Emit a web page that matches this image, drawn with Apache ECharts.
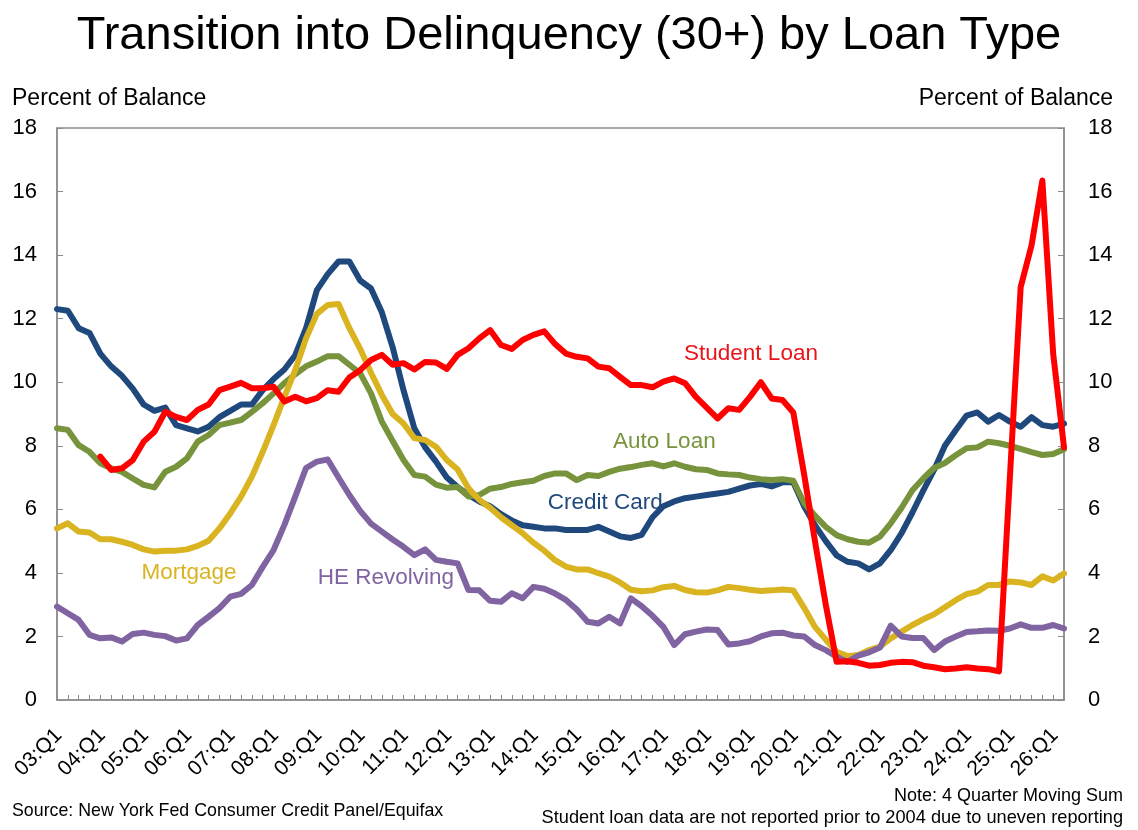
<!DOCTYPE html>
<html>
<head>
<meta charset="utf-8">
<script src="https://cdn.jsdelivr.net/npm/echarts@6/dist/echarts.min.js"></script>
<style>
  html, body { margin: 0; padding: 0; background: #ffffff; }
  #chart { width: 1138px; height: 830px; }
</style>
</head>
<body>
<div id="chart"></div>
<script>
// ---------- Data ----------
const quarters = [
  '03:Q1','03:Q2','03:Q3','03:Q4','04:Q1','04:Q2','04:Q3','04:Q4',
  '05:Q1','05:Q2','05:Q3','05:Q4','06:Q1','06:Q2','06:Q3','06:Q4',
  '07:Q1','07:Q2','07:Q3','07:Q4','08:Q1','08:Q2','08:Q3','08:Q4',
  '09:Q1','09:Q2','09:Q3','09:Q4','10:Q1','10:Q2','10:Q3','10:Q4',
  '11:Q1','11:Q2','11:Q3','11:Q4','12:Q1','12:Q2','12:Q3','12:Q4',
  '13:Q1','13:Q2','13:Q3','13:Q4','14:Q1','14:Q2','14:Q3','14:Q4',
  '15:Q1','15:Q2','15:Q3','15:Q4','16:Q1','16:Q2','16:Q3','16:Q4',
  '17:Q1','17:Q2','17:Q3','17:Q4','18:Q1','18:Q2','18:Q3','18:Q4',
  '19:Q1','19:Q2','19:Q3','19:Q4','20:Q1','20:Q2','20:Q3','20:Q4',
  '21:Q1','21:Q2','21:Q3','21:Q4','22:Q1','22:Q2','22:Q3','22:Q4',
  '23:Q1','23:Q2','23:Q3','23:Q4','24:Q1','24:Q2','24:Q3','24:Q4',
  '25:Q1','25:Q2','25:Q3','25:Q4','26:Q1','26:Q2'
];

const creditCard = [
  12.3, 12.25, 11.7, 11.55, 10.9, 10.5, 10.2, 9.8, 9.3, 9.1,
  9.2, 8.65, 8.55, 8.45, 8.6, 8.9, 9.1, 9.3, 9.3, 9.75,
  10.1, 10.4, 10.85, 11.7, 12.9, 13.4, 13.8, 13.8, 13.2, 12.95,
  12.2, 11.1, 9.75, 8.55, 7.95, 7.5, 7.0, 6.7, 6.45, 6.25,
  6.1, 5.85, 5.65, 5.5, 5.45, 5.4, 5.4, 5.35, 5.35, 5.35,
  5.45, 5.3, 5.15, 5.1, 5.2, 5.75, 6.1, 6.25, 6.35, 6.4,
  6.45, 6.5, 6.55, 6.65, 6.75, 6.8, 6.72, 6.85, 6.85, 6.1,
  5.5, 5.0, 4.55, 4.35, 4.3, 4.11, 4.3, 4.72, 5.25, 5.9,
  6.59, 7.24, 8.0, 8.49, 8.95, 9.05, 8.76, 8.97, 8.76, 8.6,
  8.9, 8.65, 8.6, 8.7
];

const autoLoan = [
  8.55, 8.5, 8.02, 7.81, 7.45, 7.29, 7.18, 6.97, 6.77, 6.69,
  7.18, 7.34, 7.6, 8.13, 8.34, 8.65, 8.73, 8.81, 9.07, 9.34,
  9.65, 9.97, 10.25, 10.5, 10.65, 10.82, 10.82, 10.55, 10.28, 9.65,
  8.76, 8.15, 7.55, 7.08, 7.03, 6.78, 6.68, 6.7, 6.4, 6.45,
  6.65, 6.7, 6.8, 6.85, 6.9, 7.05, 7.13, 7.13, 6.92, 7.08,
  7.05, 7.18, 7.28, 7.33, 7.4, 7.45, 7.35, 7.45, 7.34, 7.26,
  7.24, 7.13, 7.1, 7.08, 7.0, 6.95, 6.92, 6.95, 6.9, 6.2,
  5.8, 5.45, 5.19, 5.06, 4.98, 4.95, 5.14, 5.56, 6.05, 6.6,
  6.97, 7.3, 7.46, 7.7, 7.92, 7.95, 8.13, 8.08, 8.0, 7.9,
  7.8, 7.71, 7.74, 7.89
];

const mortgage = [
  5.4, 5.56, 5.3, 5.27, 5.06, 5.06, 4.98, 4.88, 4.74, 4.67,
  4.7, 4.7, 4.74, 4.85, 5.01, 5.4, 5.87, 6.4, 7.03, 7.81,
  8.65, 9.54, 10.38, 11.38, 12.15, 12.43, 12.46, 11.7, 11.05, 10.3,
  9.6, 9.0, 8.7, 8.24, 8.18, 7.97, 7.55, 7.25, 6.66, 6.3,
  6.05, 5.75, 5.5, 5.25, 4.95, 4.7, 4.4, 4.2, 4.11, 4.11,
  3.99, 3.88, 3.7, 3.47, 3.42, 3.45, 3.55, 3.59, 3.46, 3.39,
  3.38, 3.45, 3.56, 3.52, 3.47, 3.43, 3.45, 3.48, 3.45, 2.9,
  2.3, 1.9, 1.52, 1.38, 1.42, 1.57, 1.68, 1.94, 2.15, 2.36,
  2.54, 2.7, 2.92, 3.14, 3.33, 3.41, 3.62, 3.62, 3.73, 3.7,
  3.62, 3.89, 3.76, 3.98
];

const heRevolving = [
  2.94, 2.73, 2.52, 2.05, 1.94, 1.97, 1.84, 2.08, 2.12, 2.05,
  2.01, 1.87, 1.94, 2.36, 2.62, 2.89, 3.25, 3.34, 3.62, 4.19,
  4.72, 5.51, 6.4, 7.3, 7.5, 7.57, 7.0, 6.45, 5.95, 5.55,
  5.3, 5.05, 4.82, 4.56, 4.74, 4.41, 4.35, 4.3, 3.46, 3.45,
  3.12, 3.09, 3.36, 3.2, 3.56, 3.5, 3.35, 3.15, 2.85, 2.46,
  2.41, 2.62, 2.41, 3.2, 2.95, 2.65, 2.3, 1.73, 2.07, 2.15,
  2.22, 2.2, 1.75, 1.78, 1.85, 2.0, 2.1, 2.12, 2.03, 2.0,
  1.73, 1.57, 1.36, 1.2, 1.4, 1.5, 1.65, 2.34, 2.0, 1.95,
  1.95, 1.57, 1.84, 2.0, 2.14, 2.16, 2.19, 2.18, 2.25, 2.38,
  2.27, 2.27, 2.36, 2.25
];

const studentLoan = [
  null, null, null, null, 7.66, 7.24, 7.29, 7.55, 8.13, 8.44,
  9.07, 8.91, 8.81, 9.13, 9.3, 9.75, 9.86, 9.98, 9.81, 9.81,
  9.86, 9.39, 9.54, 9.4, 9.5, 9.75, 9.7, 10.15, 10.38, 10.7,
  10.86, 10.55, 10.6, 10.4, 10.64, 10.62, 10.42, 10.86, 11.07, 11.38,
  11.64, 11.17, 11.05, 11.33, 11.49, 11.6, 11.2, 10.9, 10.8, 10.75,
  10.49, 10.44, 10.17, 9.91, 9.91, 9.84, 10.02, 10.12, 9.97, 9.54,
  9.2, 8.86, 9.18, 9.13, 9.54, 10.0, 9.49, 9.44, 9.05, 7.1,
  5.0, 3.0, 1.2, 1.22, 1.17, 1.08, 1.1, 1.17, 1.2, 1.19,
  1.08, 1.03, 0.97, 0.99, 1.03, 0.99, 0.97, 0.9, 7.0, 13.0,
  14.3, 16.35, 10.9, 7.95
];

const yTicks = { min: 0, max: 18, interval: 2 };

// ---------- Styling ----------
const FONT = "'Liberation Sans', Arial, Helvetica, sans-serif";
const AXIS_GRAY = '#8c8c8c';
const COLORS = {
  credit: '#1F497D',
  auto: '#77933C',
  mortgage: '#D9B320',
  he: '#8064A2',
  student: '#FF0000'
};

function inlineLabel(text, cat, val, color, dx) {
  return {
    symbol: 'circle',
    symbolSize: 0,
    silent: true,
    label: {
      show: true,
      position: 'inside',
      formatter: text,
      color: color,
      fontFamily: FONT,
      fontSize: 22.5,
      offset: [dx || 0, 0]
    },
    data: [{ coord: [cat, val] }]
  };
}

function lineSeries(name, data, color, lbl) {
  return {
    name: name,
    type: 'line',
    data: data,
    yAxisIndex: 0,
    symbol: 'none',
    smooth: false,
    connectNulls: false,
    lineStyle: { color: color, width: 6, join: 'round', cap: 'round' },
    itemStyle: { color: color },
    emphasis: { disabled: true },
    markPoint: lbl
  };
}

const chart = echarts.init(document.getElementById('chart'), null, { renderer: 'canvas' });

const option = {
  animation: false,
  backgroundColor: '#ffffff',
  textStyle: { fontFamily: FONT },
  title: {
    text: 'Transition into Delinquency (30+) by Loan Type',
    left: 'center',
    top: 8,
    textStyle: { fontFamily: FONT, fontSize: 47, fontWeight: 'normal', color: '#000000' }
  },
  grid: {
    left: 57,
    right: 74,
    top: 128,
    bottom: 130,
    show: true,
    borderColor: AXIS_GRAY,
    borderWidth: 1.5,
    backgroundColor: 'transparent'
  },
  xAxis: {
    type: 'category',
    data: quarters,
    boundaryGap: false,
    axisLine: { show: true, lineStyle: { color: AXIS_GRAY, width: 1.5 } },
    axisTick: { show: true, inside: true, length: 5, interval: 0, lineStyle: { color: AXIS_GRAY, width: 1 } },
    axisLabel: {
      interval: function (idx, val) { return val.slice(3) === 'Q1'; },
      rotate: 45,
      margin: 19,
      verticalAlign: 'top',
      padding: [0, 8, 0, 0],
      color: '#000000',
      fontFamily: FONT,
      fontSize: 21
    },
    splitLine: { show: false }
  },
  yAxis: [
    {
      type: 'value',
      position: 'left',
      min: yTicks.min, max: yTicks.max, interval: yTicks.interval,
      axisLine: { show: true, lineStyle: { color: AXIS_GRAY, width: 1.5 } },
      axisTick: { show: true, inside: true, length: 6, lineStyle: { color: AXIS_GRAY } },
      axisLabel: { color: '#000000', fontFamily: FONT, fontSize: 22, margin: 20 },
      splitLine: { show: false }
    },
    {
      type: 'value',
      position: 'right',
      min: yTicks.min, max: yTicks.max, interval: yTicks.interval,
      axisLine: { show: true, lineStyle: { color: AXIS_GRAY, width: 1.5 } },
      axisTick: { show: true, inside: true, length: 6, lineStyle: { color: AXIS_GRAY } },
      axisLabel: { color: '#000000', fontFamily: FONT, fontSize: 22, margin: 24 },
      splitLine: { show: false }
    }
  ],
  series: [
    lineSeries('Credit Card', creditCard, COLORS.credit,
      inlineLabel('Credit Card', quarters[51], 6.2, COLORS.credit, -4)),
    lineSeries('Auto Loan', autoLoan, COLORS.auto,
      inlineLabel('Auto Loan', quarters[56], 8.12, COLORS.auto, 1)),
    lineSeries('Mortgage', mortgage, COLORS.mortgage,
      inlineLabel('Mortgage', quarters[12], 4.0, COLORS.mortgage, 2)),
    lineSeries('HE Revolving', heRevolving, COLORS.he,
      inlineLabel('HE Revolving', quarters[30], 3.84, COLORS.he, 4)),
    lineSeries('Student Loan', studentLoan, COLORS.student,
      inlineLabel('Student Loan', quarters[64], 10.89, '#E8141A', 1))
  ],
  graphic: [
    { type: 'text', left: 12, top: 87,
      style: { text: 'Percent of Balance', fill: '#000', font: '23px ' + FONT } },
    { type: 'text', right: 25, top: 87,
      style: { text: 'Percent of Balance', fill: '#000', font: '23px ' + FONT } },
    { type: 'text', left: 12, top: 802,
      style: { text: 'Source: New York Fed Consumer Credit Panel/Equifax', fill: '#000', font: '17.8px ' + FONT } },
    { type: 'text', right: 15, top: 787,
      style: { text: 'Note: 4 Quarter Moving Sum', fill: '#000', font: '18px ' + FONT, textAlign: 'right' } },
    { type: 'text', right: 15, top: 809,
      style: { text: 'Student loan data are not reported prior to 2004 due to uneven reporting', fill: '#000', font: '18.2px ' + FONT, textAlign: 'right' } }
  ]
};

chart.setOption(option);
</script>
</body>
</html>
